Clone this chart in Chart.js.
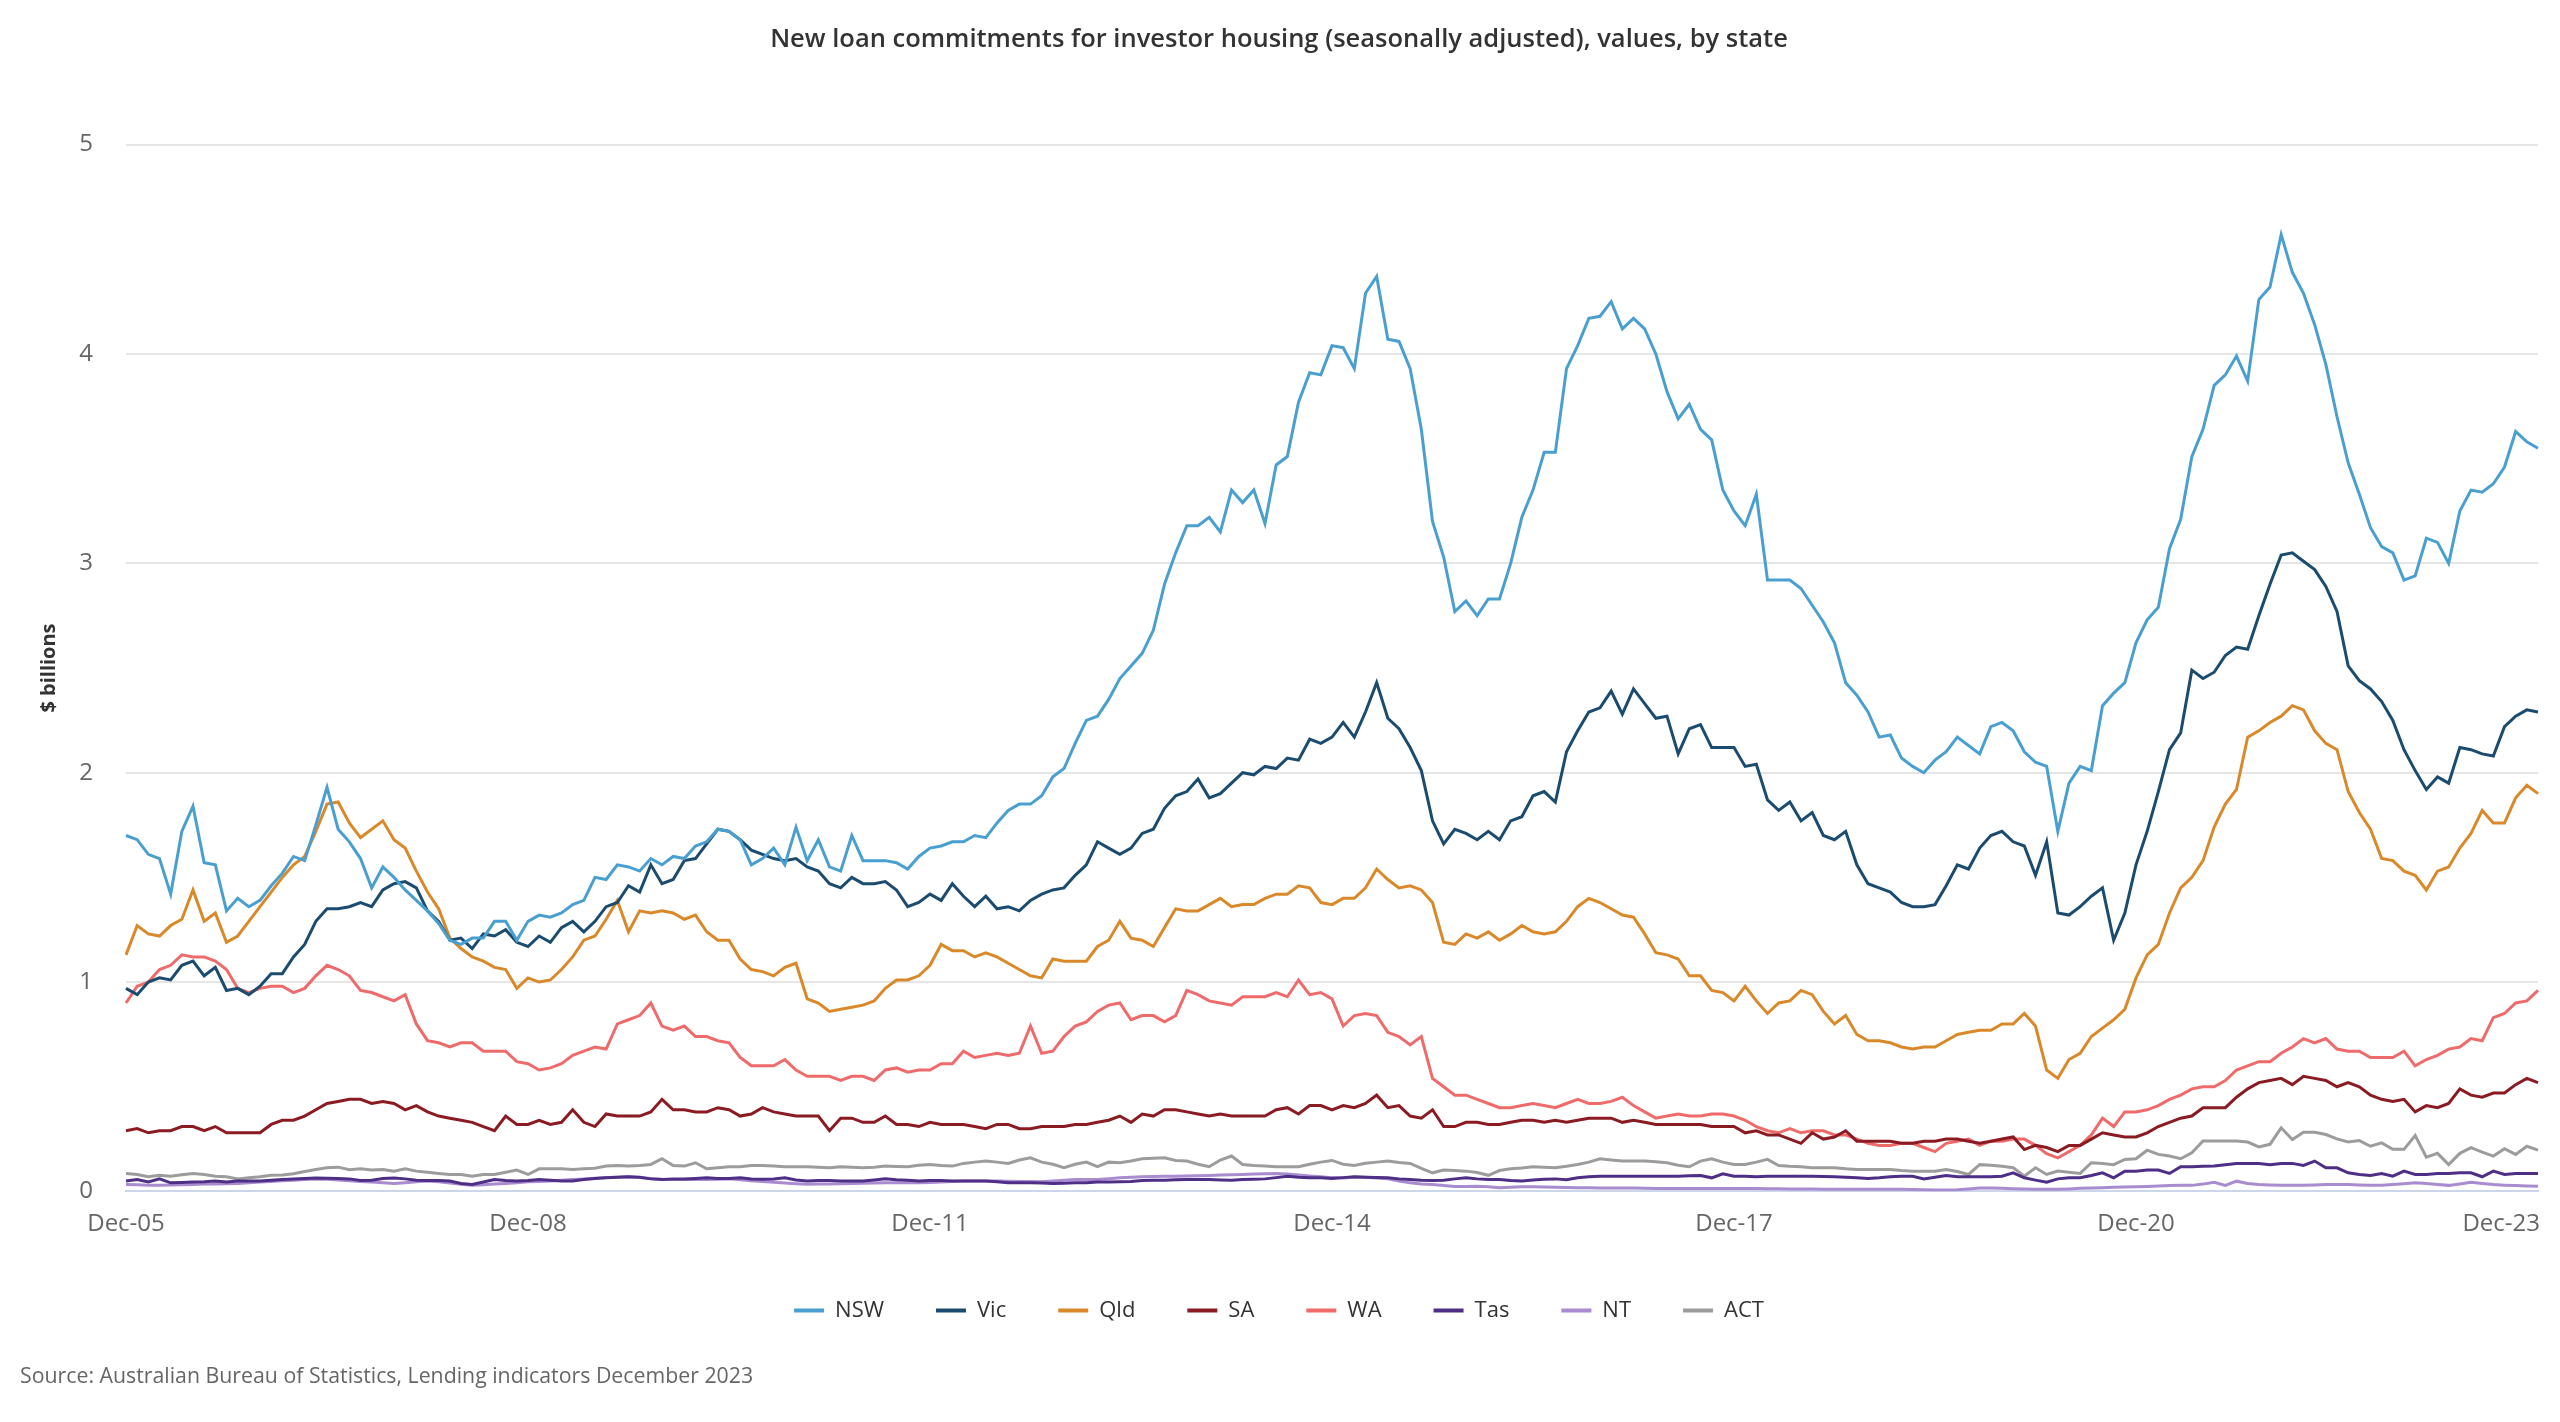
<!DOCTYPE html>
<html>
<head>
<meta charset="utf-8">
<title>Investor housing loan commitments by state</title>
<script src="https://cdn.jsdelivr.net/npm/chart.js@4.4.1/dist/chart.umd.min.js"></script>
<style>
  html, body { margin: 0; padding: 0; background: #ffffff; }
  #wrap { position: relative; width: 2560px; height: 1422px; }
</style>
</head>
<body>
<div id="wrap"><canvas id="loans" width="2560" height="1422"></canvas></div>
<script>
// ---- data ($ billions, monthly from Dec-05 to Dec-23) ----
const tickLabels = ["Dec-05", "Dec-08", "Dec-11", "Dec-14", "Dec-17", "Dec-20", "Dec-23"];

const nsw = [
  1.70, 1.68, 1.61, 1.59, 1.42, 1.72, 1.84, 1.57, 1.56, 1.34, 1.40, 1.36, 1.39, 1.46, 1.52, 1.60, 1.58, 1.75, 1.93, 1.73,
  1.67, 1.59, 1.45, 1.55, 1.50, 1.44, 1.39, 1.34, 1.28, 1.20, 1.18, 1.21, 1.21, 1.29, 1.29, 1.20, 1.29,
  1.32, 1.31, 1.33, 1.37, 1.39, 1.50, 1.49, 1.56, 1.55, 1.53, 1.59, 1.56, 1.60, 1.59, 1.65, 1.67, 1.73, 1.72,
  1.68, 1.56, 1.59, 1.64, 1.56, 1.74, 1.58, 1.68, 1.55, 1.53, 1.70, 1.58, 1.58, 1.58, 1.57, 1.54, 1.60, 1.64,
  1.65, 1.67, 1.67, 1.70, 1.69, 1.76, 1.82, 1.85, 1.85, 1.89, 1.98, 2.02, 2.14, 2.25, 2.27, 2.35, 2.45, 2.51,
  2.57, 2.68, 2.90, 3.05, 3.18, 3.18, 3.22, 3.15, 3.35, 3.29, 3.35, 3.19, 3.47, 3.51, 3.77, 3.91, 3.90, 4.04,
  4.03, 3.93, 4.29, 4.37, 4.07, 4.06, 3.93, 3.64, 3.20, 3.03, 2.77, 2.82, 2.75, 2.83, 2.83, 3.00, 3.22, 3.35,
  3.53, 3.53, 3.93, 4.04, 4.17, 4.18, 4.25, 4.12, 4.17, 4.12, 4.00, 3.82, 3.69, 3.76, 3.64, 3.59, 3.35, 3.25,
  3.18, 3.33, 2.92, 2.92, 2.92, 2.88, 2.80, 2.72, 2.62, 2.43, 2.37, 2.29, 2.17, 2.18, 2.07, 2.03, 2.00, 2.06,
  2.10, 2.17, 2.13, 2.09, 2.22, 2.24, 2.20, 2.10, 2.05, 2.03, 1.72, 1.95, 2.03, 2.01, 2.32, 2.38, 2.43, 2.62,
  2.73, 2.79, 3.07, 3.21, 3.51, 3.64, 3.85, 3.90, 3.99, 3.87, 4.26, 4.32, 4.57, 4.39, 4.29, 4.14, 3.95, 3.70,
  3.48, 3.33, 3.17, 3.08, 3.05, 2.92, 2.94, 3.12, 3.10, 3.00, 3.25, 3.35, 3.34, 3.38, 3.46, 3.63, 3.58, 3.55
];
const vic = [
  0.97, 0.94, 1.00, 1.02, 1.01, 1.08, 1.10, 1.03, 1.07, 0.96, 0.97, 0.94, 0.98, 1.04, 1.04, 1.12, 1.18, 1.29, 1.35, 1.35,
  1.36, 1.38, 1.36, 1.44, 1.47, 1.48, 1.45, 1.34, 1.29, 1.20, 1.21, 1.16, 1.23, 1.22, 1.25, 1.19, 1.17,
  1.22, 1.19, 1.26, 1.29, 1.24, 1.29, 1.36, 1.38, 1.46, 1.43, 1.56, 1.47, 1.49, 1.58, 1.59, 1.66, 1.73, 1.72,
  1.68, 1.63, 1.61, 1.59, 1.58, 1.59, 1.55, 1.53, 1.47, 1.45, 1.50, 1.47, 1.47, 1.48, 1.44, 1.36, 1.38, 1.42,
  1.39, 1.47, 1.41, 1.36, 1.41, 1.35, 1.36, 1.34, 1.39, 1.42, 1.44, 1.45, 1.51, 1.56, 1.67, 1.64, 1.61, 1.64,
  1.71, 1.73, 1.83, 1.89, 1.91, 1.97, 1.88, 1.90, 1.95, 2.00, 1.99, 2.03, 2.02, 2.07, 2.06, 2.16, 2.14, 2.17,
  2.24, 2.17, 2.29, 2.43, 2.26, 2.21, 2.12, 2.01, 1.77, 1.66, 1.73, 1.71, 1.68, 1.72, 1.68, 1.77, 1.79, 1.89,
  1.91, 1.86, 2.10, 2.20, 2.29, 2.31, 2.39, 2.28, 2.40, 2.33, 2.26, 2.27, 2.09, 2.21, 2.23, 2.12, 2.12, 2.12,
  2.03, 2.04, 1.87, 1.82, 1.86, 1.77, 1.81, 1.70, 1.68, 1.72, 1.56, 1.47, 1.45, 1.43, 1.38, 1.36, 1.36, 1.37,
  1.46, 1.56, 1.54, 1.64, 1.70, 1.72, 1.67, 1.65, 1.51, 1.67, 1.33, 1.32, 1.36, 1.41, 1.45, 1.20, 1.33, 1.56,
  1.72, 1.91, 2.11, 2.19, 2.49, 2.45, 2.48, 2.56, 2.60, 2.59, 2.75, 2.90, 3.04, 3.05, 3.01, 2.97, 2.89, 2.77,
  2.51, 2.44, 2.40, 2.34, 2.25, 2.11, 2.01, 1.92, 1.98, 1.95, 2.12, 2.11, 2.09, 2.08, 2.22, 2.27, 2.30, 2.29
];
const qld = [
  1.13, 1.27, 1.23, 1.22, 1.27, 1.30, 1.44, 1.29, 1.33, 1.19, 1.22, 1.29, 1.36, 1.43, 1.50, 1.56, 1.60, 1.72, 1.85, 1.86,
  1.76, 1.69, 1.73, 1.77, 1.68, 1.64, 1.53, 1.43, 1.35, 1.21, 1.16, 1.12, 1.10, 1.07, 1.06, 0.97, 1.02,
  1.00, 1.01, 1.06, 1.12, 1.20, 1.22, 1.30, 1.39, 1.24, 1.34, 1.33, 1.34, 1.33, 1.30, 1.32, 1.24, 1.20, 1.20,
  1.11, 1.06, 1.05, 1.03, 1.07, 1.09, 0.92, 0.90, 0.86, 0.87, 0.88, 0.89, 0.91, 0.97, 1.01, 1.01, 1.03, 1.08,
  1.18, 1.15, 1.15, 1.12, 1.14, 1.12, 1.09, 1.06, 1.03, 1.02, 1.11, 1.10, 1.10, 1.10, 1.17, 1.20, 1.29, 1.21,
  1.20, 1.17, 1.26, 1.35, 1.34, 1.34, 1.37, 1.40, 1.36, 1.37, 1.37, 1.40, 1.42, 1.42, 1.46, 1.45, 1.38, 1.37,
  1.40, 1.40, 1.45, 1.54, 1.49, 1.45, 1.46, 1.44, 1.38, 1.19, 1.18, 1.23, 1.21, 1.24, 1.20, 1.23, 1.27, 1.24,
  1.23, 1.24, 1.29, 1.36, 1.40, 1.38, 1.35, 1.32, 1.31, 1.23, 1.14, 1.13, 1.11, 1.03, 1.03, 0.96, 0.95, 0.91,
  0.98, 0.91, 0.85, 0.90, 0.91, 0.96, 0.94, 0.86, 0.80, 0.84, 0.75, 0.72, 0.72, 0.71, 0.69, 0.68, 0.69, 0.69,
  0.72, 0.75, 0.76, 0.77, 0.77, 0.80, 0.80, 0.85, 0.79, 0.58, 0.54, 0.63, 0.66, 0.74, 0.78, 0.82, 0.87, 1.02,
  1.13, 1.18, 1.33, 1.45, 1.50, 1.58, 1.74, 1.85, 1.92, 2.17, 2.20, 2.24, 2.27, 2.32, 2.30, 2.20, 2.14, 2.11,
  1.91, 1.81, 1.73, 1.59, 1.58, 1.53, 1.51, 1.44, 1.53, 1.55, 1.64, 1.71, 1.82, 1.76, 1.76, 1.88, 1.94, 1.90
];
const sa = [
  0.29, 0.30, 0.28, 0.29, 0.29, 0.31, 0.31, 0.29, 0.31, 0.28, 0.28, 0.28, 0.28, 0.32, 0.34, 0.34, 0.36, 0.39, 0.42, 0.43,
  0.44, 0.44, 0.42, 0.43, 0.42, 0.39, 0.41, 0.38, 0.36, 0.35, 0.34, 0.33, 0.31, 0.29, 0.36, 0.32, 0.32,
  0.34, 0.32, 0.33, 0.39, 0.33, 0.31, 0.37, 0.36, 0.36, 0.36, 0.38, 0.44, 0.39, 0.39, 0.38, 0.38, 0.40, 0.39,
  0.36, 0.37, 0.40, 0.38, 0.37, 0.36, 0.36, 0.36, 0.29, 0.35, 0.35, 0.33, 0.33, 0.36, 0.32, 0.32, 0.31, 0.33,
  0.32, 0.32, 0.32, 0.31, 0.30, 0.32, 0.32, 0.30, 0.30, 0.31, 0.31, 0.31, 0.32, 0.32, 0.33, 0.34, 0.36, 0.33,
  0.37, 0.36, 0.39, 0.39, 0.38, 0.37, 0.36, 0.37, 0.36, 0.36, 0.36, 0.36, 0.39, 0.40, 0.37, 0.41, 0.41, 0.39,
  0.41, 0.40, 0.42, 0.46, 0.40, 0.41, 0.36, 0.35, 0.39, 0.31, 0.31, 0.33, 0.33, 0.32, 0.32, 0.33, 0.34, 0.34,
  0.33, 0.34, 0.33, 0.34, 0.35, 0.35, 0.35, 0.33, 0.34, 0.33, 0.32, 0.32, 0.32, 0.32, 0.32, 0.31, 0.31, 0.31,
  0.28, 0.29, 0.27, 0.27, 0.25, 0.23, 0.28, 0.25, 0.26, 0.29, 0.24, 0.24, 0.24, 0.24, 0.23, 0.23, 0.24, 0.24,
  0.25, 0.25, 0.24, 0.23, 0.24, 0.25, 0.26, 0.20, 0.22, 0.21, 0.19, 0.22, 0.22, 0.25, 0.28, 0.27, 0.26, 0.26,
  0.28, 0.31, 0.33, 0.35, 0.36, 0.40, 0.40, 0.40, 0.45, 0.49, 0.52, 0.53, 0.54, 0.51, 0.55, 0.54, 0.53, 0.50,
  0.52, 0.50, 0.46, 0.44, 0.43, 0.44, 0.38, 0.41, 0.40, 0.42, 0.49, 0.46, 0.45, 0.47, 0.47, 0.51, 0.54, 0.52
];
const wa = [
  0.90, 0.98, 1.00, 1.06, 1.08, 1.13, 1.12, 1.12, 1.10, 1.06, 0.97, 0.95, 0.97, 0.98, 0.98, 0.95, 0.97, 1.03, 1.08, 1.06,
  1.03, 0.96, 0.95, 0.93, 0.91, 0.94, 0.80, 0.72, 0.71, 0.69, 0.71, 0.71, 0.67, 0.67, 0.67, 0.62, 0.61,
  0.58, 0.59, 0.61, 0.65, 0.67, 0.69, 0.68, 0.80, 0.82, 0.84, 0.90, 0.79, 0.77, 0.79, 0.74, 0.74, 0.72, 0.71,
  0.64, 0.60, 0.60, 0.60, 0.63, 0.58, 0.55, 0.55, 0.55, 0.53, 0.55, 0.55, 0.53, 0.58, 0.59, 0.57, 0.58, 0.58,
  0.61, 0.61, 0.67, 0.64, 0.65, 0.66, 0.65, 0.66, 0.79, 0.66, 0.67, 0.74, 0.79, 0.81, 0.86, 0.89, 0.90, 0.82,
  0.84, 0.84, 0.81, 0.84, 0.96, 0.94, 0.91, 0.90, 0.89, 0.93, 0.93, 0.93, 0.95, 0.93, 1.01, 0.94, 0.95, 0.92,
  0.79, 0.84, 0.85, 0.84, 0.76, 0.74, 0.70, 0.74, 0.54, 0.50, 0.46, 0.46, 0.44, 0.42, 0.40, 0.40, 0.41, 0.42,
  0.41, 0.40, 0.42, 0.44, 0.42, 0.42, 0.43, 0.45, 0.41, 0.38, 0.35, 0.36, 0.37, 0.36, 0.36, 0.37, 0.37, 0.36,
  0.34, 0.31, 0.29, 0.28, 0.30, 0.28, 0.29, 0.29, 0.27, 0.27, 0.25, 0.23, 0.22, 0.22, 0.23, 0.23, 0.21, 0.19,
  0.23, 0.24, 0.25, 0.22, 0.24, 0.24, 0.25, 0.25, 0.22, 0.18, 0.16, 0.19, 0.22, 0.27, 0.35, 0.31, 0.38, 0.38,
  0.39, 0.41, 0.44, 0.46, 0.49, 0.50, 0.50, 0.53, 0.58, 0.60, 0.62, 0.62, 0.66, 0.69, 0.73, 0.71, 0.73, 0.68,
  0.67, 0.67, 0.64, 0.64, 0.64, 0.67, 0.60, 0.63, 0.65, 0.68, 0.69, 0.73, 0.72, 0.83, 0.85, 0.90, 0.91, 0.96
];
const tas = [
  0.050, 0.057, 0.045, 0.060, 0.041, 0.043, 0.045, 0.046, 0.050, 0.045, 0.050, 0.050, 0.050, 0.054, 0.057, 0.060,
  0.062, 0.064, 0.063, 0.062, 0.060, 0.052, 0.054, 0.062, 0.064, 0.060, 0.054, 0.052, 0.052, 0.050, 0.038, 0.033,
  0.045, 0.057, 0.052, 0.050, 0.052, 0.057, 0.054, 0.050, 0.050, 0.057, 0.062, 0.065, 0.068, 0.070, 0.068, 0.060,
  0.057, 0.060, 0.060, 0.062, 0.065, 0.062, 0.062,
  0.065, 0.060, 0.058, 0.060, 0.065, 0.055, 0.050, 0.052, 0.052, 0.050, 0.050, 0.050, 0.055, 0.060, 0.056, 0.054,
  0.050, 0.052, 0.052, 0.050, 0.050, 0.050, 0.050, 0.046, 0.041, 0.041, 0.041, 0.040, 0.038, 0.039, 0.041, 0.042,
  0.045, 0.045, 0.046, 0.048, 0.052, 0.053, 0.054, 0.056, 0.057, 0.057, 0.057, 0.055, 0.054, 0.057, 0.058, 0.060,
  0.066, 0.073, 0.068, 0.065, 0.065, 0.062,
  0.066, 0.070, 0.068, 0.066, 0.065, 0.060, 0.057, 0.053, 0.052, 0.054, 0.060, 0.065, 0.060, 0.057, 0.057, 0.052,
  0.050, 0.055, 0.058, 0.060, 0.056, 0.065, 0.070, 0.073, 0.073, 0.073, 0.073, 0.073, 0.073, 0.073, 0.073, 0.075,
  0.076, 0.065, 0.084, 0.073, 0.072, 0.070, 0.072, 0.073, 0.072, 0.072, 0.073, 0.071, 0.070, 0.068, 0.065, 0.062,
  0.065, 0.070, 0.073, 0.072, 0.060, 0.068, 0.076,
  0.070, 0.070, 0.070, 0.070, 0.073, 0.089, 0.065, 0.054, 0.044, 0.060, 0.065, 0.065, 0.076, 0.089, 0.065, 0.097,
  0.097, 0.102, 0.102, 0.086, 0.118, 0.118, 0.120, 0.121, 0.128, 0.134, 0.134, 0.134, 0.128, 0.134, 0.134, 0.124,
  0.145, 0.113, 0.113, 0.089, 0.081, 0.076, 0.086, 0.073, 0.097, 0.081, 0.081, 0.086, 0.086, 0.089, 0.089, 0.070,
  0.097, 0.081, 0.086, 0.086, 0.086
];
const nt = [
  0.033, 0.032, 0.030, 0.029, 0.031, 0.032, 0.033, 0.035, 0.036, 0.037, 0.038, 0.041, 0.045, 0.048, 0.051, 0.054,
  0.057, 0.060, 0.058, 0.055, 0.051, 0.048, 0.045, 0.041, 0.038, 0.042, 0.046, 0.050, 0.046, 0.040, 0.034, 0.029,
  0.032, 0.035, 0.038, 0.042, 0.046, 0.048, 0.050, 0.054, 0.057, 0.060, 0.063, 0.066, 0.068, 0.070, 0.066, 0.062,
  0.058, 0.057, 0.057, 0.058, 0.057, 0.058, 0.060,
  0.056, 0.051, 0.047, 0.044, 0.040, 0.037, 0.034, 0.035, 0.036, 0.037, 0.038, 0.039, 0.040, 0.041, 0.041, 0.041,
  0.041, 0.043, 0.045, 0.047, 0.050, 0.050, 0.050, 0.050, 0.049, 0.048, 0.047, 0.046, 0.050, 0.054, 0.057, 0.057,
  0.057, 0.061, 0.065, 0.068, 0.070, 0.071, 0.072, 0.073, 0.074, 0.075, 0.076, 0.078, 0.080, 0.081, 0.083, 0.084,
  0.086, 0.083, 0.078, 0.074, 0.070, 0.066,
  0.064, 0.068, 0.068, 0.064, 0.060, 0.050, 0.041, 0.036, 0.033, 0.028, 0.024, 0.024, 0.025, 0.022, 0.018, 0.020,
  0.022, 0.022, 0.021, 0.020, 0.019, 0.018, 0.018, 0.017, 0.017, 0.017, 0.016, 0.015, 0.014, 0.014, 0.014, 0.014,
  0.014, 0.014, 0.014, 0.014, 0.014, 0.014, 0.013, 0.013, 0.012, 0.012, 0.012, 0.011, 0.011, 0.010, 0.010, 0.010,
  0.010, 0.010, 0.010, 0.009, 0.008, 0.007, 0.007,
  0.008, 0.012, 0.016, 0.017, 0.015, 0.013, 0.012, 0.011, 0.010, 0.010, 0.012, 0.015, 0.017, 0.018, 0.020, 0.021,
  0.022, 0.024, 0.026, 0.028, 0.029, 0.029, 0.035, 0.044, 0.029, 0.049, 0.038, 0.033, 0.031, 0.030, 0.029, 0.029,
  0.031, 0.033, 0.033, 0.033, 0.031, 0.030, 0.029, 0.033, 0.037, 0.041, 0.038, 0.033, 0.029, 0.036, 0.044, 0.038,
  0.033, 0.030, 0.028, 0.026, 0.025
];
const act = [
  0.086, 0.081, 0.070, 0.077, 0.073, 0.080, 0.086, 0.081, 0.073, 0.070, 0.060, 0.065, 0.070, 0.077, 0.079, 0.085,
  0.095, 0.105, 0.113, 0.116, 0.104, 0.108, 0.102, 0.105, 0.097, 0.108, 0.097, 0.092, 0.086, 0.081, 0.081, 0.073,
  0.081, 0.081, 0.092, 0.102, 0.081, 0.108, 0.108, 0.108, 0.105, 0.108, 0.111, 0.121, 0.124, 0.121, 0.124, 0.129,
  0.156, 0.124, 0.121, 0.137, 0.108, 0.113, 0.118,
  0.118, 0.124, 0.124, 0.122, 0.118, 0.118, 0.118, 0.115, 0.113, 0.118, 0.116, 0.113, 0.116, 0.121, 0.119, 0.118,
  0.125, 0.129, 0.124, 0.121, 0.134, 0.140, 0.145, 0.140, 0.134, 0.150, 0.161, 0.140, 0.130, 0.113, 0.130, 0.140,
  0.118, 0.140, 0.137, 0.145, 0.156, 0.158, 0.161, 0.148, 0.145, 0.130, 0.118, 0.150, 0.169, 0.129, 0.124, 0.121,
  0.118, 0.118, 0.118, 0.130, 0.140, 0.148,
  0.130, 0.124, 0.135, 0.140, 0.145, 0.138, 0.134, 0.110, 0.089, 0.102, 0.100, 0.097, 0.090, 0.077, 0.100, 0.108,
  0.112, 0.118, 0.115, 0.113, 0.120, 0.129, 0.140, 0.156, 0.150, 0.145, 0.145, 0.145, 0.142, 0.137, 0.125, 0.118,
  0.145, 0.156, 0.140, 0.129, 0.129, 0.140, 0.153, 0.124, 0.120, 0.118, 0.113, 0.113, 0.113, 0.108, 0.105, 0.105,
  0.105, 0.105, 0.100, 0.097, 0.097, 0.097, 0.105,
  0.095, 0.081, 0.128, 0.125, 0.120, 0.113, 0.073, 0.113, 0.081, 0.097, 0.092, 0.086, 0.137, 0.134, 0.128, 0.153,
  0.156, 0.197, 0.177, 0.169, 0.156, 0.185, 0.241, 0.241, 0.241, 0.241, 0.236, 0.213, 0.225, 0.304, 0.248, 0.283,
  0.283, 0.272, 0.251, 0.236, 0.243, 0.216, 0.232, 0.201, 0.201, 0.267, 0.164, 0.182, 0.128, 0.182, 0.209, 0.188,
  0.169, 0.204, 0.177, 0.216, 0.197
];

// month labels Dec-05 ... Dec-23
const monthNames = ["Jan", "Feb", "Mar", "Apr", "May", "Jun", "Jul", "Aug", "Sep", "Oct", "Nov", "Dec"];
const categories = nsw.map((_, i) => {
  const m = 11 + i;
  return monthNames[m % 12] + "-" + String(2005 + Math.floor(m / 12)).slice(2);
});

const series = [
  { label: "NSW", data: nsw, color: "#4a9fd1" },
  { label: "Vic", data: vic, color: "#1b4b6e" },
  { label: "Qld", data: qld, color: "#d9892a" },
  { label: "SA",  data: sa,  color: "#8b1b22" },
  { label: "WA",  data: wa,  color: "#ef6b6b" },
  { label: "Tas", data: tas, color: "#4f2f86" },
  { label: "NT",  data: nt,  color: "#a98ccf" },
  { label: "ACT", data: act, color: "#9c9c9c" }
];

series.forEach(s => {
  if (s.data.length !== categories.length) throw new Error(s.label + " has " + s.data.length + " values");
});

const FONT = "'Open Sans', 'Noto Sans', sans-serif";
const TICK_SIZE = 24;
const TICK_PAD = 18;

// Highcharts-style: last x label sits right-aligned at the plot edge
const lastTickPlugin = {
  id: "lastTick",
  afterDraw(chart) {
    const x = chart.scales.x;
    const ctx = chart.ctx;
    ctx.save();
    ctx.font = TICK_SIZE + "px " + FONT;
    ctx.fillStyle = "#666666";
    ctx.textAlign = "right";
    ctx.textBaseline = "middle";
    ctx.fillText(tickLabels[tickLabels.length - 1],
      x.getPixelForValue(categories.length - 1) + 2,
      x.top + TICK_PAD + TICK_SIZE * 1.2 / 2);
    ctx.restore();
  }
};

Chart.defaults.font.family = FONT;
Chart.defaults.color = "#666666";

new Chart(document.getElementById("loans").getContext("2d"), {
  type: "line",
  data: {
    labels: categories,
    datasets: series.map(s => ({
      label: s.label,
      data: s.data,
      borderColor: s.color,
      backgroundColor: s.color,
      borderWidth: 3,
      pointRadius: 0,
      tension: 0
    }))
  },
  options: {
    responsive: false,
    animation: false,
    layout: { padding: { left: 20, right: 22, top: 0, bottom: 0 } },
    plugins: {
      title: {
        display: true,
        text: "New loan commitments for investor housing (seasonally adjusted), values, by state",
        color: "#333333",
        font: { size: 25.5, weight: "600" },
        padding: { top: 24, bottom: 90 }
      },
      legend: {
        position: "bottom",
        labels: {
          boxWidth: 30,
          boxHeight: 4,
          padding: 52,
          color: "#333333",
          font: { size: 22 },
          generateLabels: chart =>
            Chart.defaults.plugins.legend.labels.generateLabels(chart).map(l => ({ ...l, lineWidth: 0 }))
        }
      },
      subtitle: {
        display: true,
        position: "bottom",
        align: "start",
        text: "Source: Australian Bureau of Statistics, Lending indicators December 2023",
        color: "#666666",
        font: { size: 21.3 },
        padding: { top: 33, bottom: 32 }
      },
      tooltip: { enabled: false }
    },
    scales: {
      x: {
        grid: { display: false, drawTicks: false },
        border: { display: true, color: "#ccd6eb", width: 2 },
        ticks: {
          autoSkip: false,
          maxRotation: 0,
          minRotation: 0,
          padding: TICK_PAD,
          color: "#666666",
          font: { size: TICK_SIZE },
          callback: function (value, index) {
            const label = this.getLabelForValue(value);
            if (index === categories.length - 1) return null;
            return tickLabels.includes(label) ? label : null;
          }
        },
        afterFit: scale => { scale.height = 56; }
      },
      y: {
        min: 0,
        max: 5,
        ticks: { stepSize: 1, padding: 33, color: "#666666", font: { size: TICK_SIZE } },
        grid: { color: "#e6e6e6", lineWidth: 2, drawTicks: false },
        border: { display: false },
        title: {
          display: true,
          text: "$ billions",
          color: "#333333",
          font: { size: 20, weight: "bold" },
          padding: { top: 17, bottom: 0 }
        },
        afterFit: scale => { scale.width = 106; }
      }
    }
  },
  plugins: [lastTickPlugin]
});
</script>
</body>
</html>
